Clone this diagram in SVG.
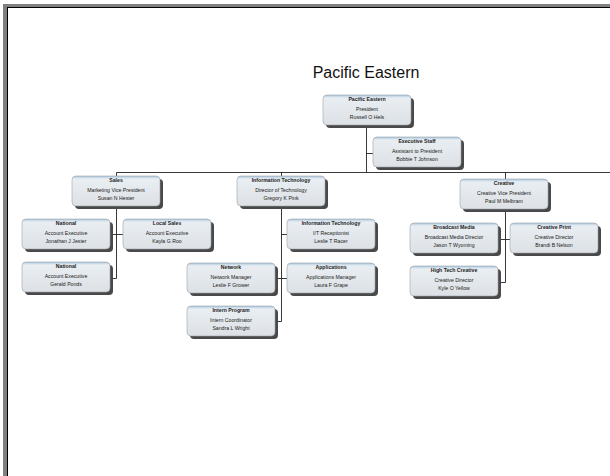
<svg xmlns="http://www.w3.org/2000/svg" width="610" height="476" viewBox="0 0 610 476">
<defs>
<linearGradient id="g" x1="0" y1="0" x2="0" y2="1">
<stop offset="0" stop-color="#a9c6de"/>
<stop offset="0.1" stop-color="#e9eef2"/>
<stop offset="1" stop-color="#dde1e5"/>
</linearGradient>
<filter id="blur" x="-10%" y="-10%" width="120%" height="130%"><feGaussianBlur stdDeviation="0.7"/></filter>
<style>
.sh{fill:#4a4a4a;filter:url(#blur)}
.bx{fill:url(#g);stroke:#9ca3aa;stroke-width:0.6}
.t{font-family:"Liberation Sans",Arial,sans-serif;font-size:5.2px;fill:#222;text-anchor:middle}
.b{font-weight:bold}
.c{stroke:#222;stroke-width:0.9;fill:none}
</style>
<g id="box">
<rect class="sh" x="3" y="3" width="88" height="30" rx="4"/>
<rect class="bx" x="0" y="0" width="88" height="30" rx="4"/>
</g>
</defs>
<rect x="0" y="0" width="610" height="476" fill="#fff"/>
<rect x="3" y="4" width="607" height="472" fill="#808080"/>
<rect x="7" y="7" width="603" height="469" fill="#000"/>
<rect x="8" y="8" width="602" height="468" fill="#fff"/>
<text x="366" y="78" style="font-family:'Liberation Sans',Arial,sans-serif;font-size:16px;fill:#111" text-anchor="middle">Pacific Eastern</text>
<g id="connectors" class="c">
<path d="M366.5 125V172.5M366.5 153.5H373M116.5 172.5H610M116.5 172.5V176M281.5 172.5V176M505.5 172.5V179"/>
<path d="M116.5 206V278.5H110M110 234.5H123"/>
<path d="M281.5 206V321.5H275M281.5 234.5H287M275 278.5H287"/>
<path d="M505.5 209V282.5H498M498 239.5H510"/>
</g>
<g id="n-pe" transform="translate(323,95)"><use href="#box"/><text class="t b" x="44" y="6">Pacific Eastern</text><text class="t" x="44" y="16">President</text><text class="t" x="44" y="23.5">Russell O Hels</text></g>
<g id="n-exec" transform="translate(373,137)"><use href="#box"/><text class="t b" x="44" y="6">Executive Staff</text><text class="t" x="44" y="16">Assistant to President</text><text class="t" x="44" y="23.5">Bobbie T Johnson</text></g>
<g id="n-sales" transform="translate(72,176)"><use href="#box"/><text class="t b" x="44" y="6">Sales</text><text class="t" x="44" y="16">Marketing Vice President</text><text class="t" x="44" y="23.5">Susan N Hester</text></g>
<g id="n-it" transform="translate(237,176)"><use href="#box"/><text class="t b" x="44" y="6">Information Technology</text><text class="t" x="44" y="16">Director of Technology</text><text class="t" x="44" y="23.5">Gregory K Pink</text></g>
<g id="n-creative" transform="translate(460,179)"><use href="#box"/><text class="t b" x="44" y="6">Creative</text><text class="t" x="44" y="16">Creative Vice President</text><text class="t" x="44" y="23.5">Paul M Melbram</text></g>
<g id="n-national1" transform="translate(22,219)"><use href="#box"/><text class="t b" x="44" y="6">National</text><text class="t" x="44" y="16">Account Executive</text><text class="t" x="44" y="23.5">Jonathan J Jester</text></g>
<g id="n-local" transform="translate(123,219)"><use href="#box"/><text class="t b" x="44" y="6">Local Sales</text><text class="t" x="44" y="16">Account Executive</text><text class="t" x="44" y="23.5">Kayla G Roo</text></g>
<g id="n-national2" transform="translate(22,262)"><use href="#box"/><text class="t b" x="44" y="6">National</text><text class="t" x="44" y="16">Account Executive</text><text class="t" x="44" y="23.5">Gerald Ponds</text></g>
<g id="n-itsub" transform="translate(287,219)"><use href="#box"/><text class="t b" x="44" y="6">Information Technology</text><text class="t" x="44" y="16">I/T Receptionist</text><text class="t" x="44" y="23.5">Leslie T Racer</text></g>
<g id="n-network" transform="translate(187,263)"><use href="#box"/><text class="t b" x="44" y="6">Network</text><text class="t" x="44" y="16">Network Manager</text><text class="t" x="44" y="23.5">Leslie F Grower</text></g>
<g id="n-apps" transform="translate(287,263)"><use href="#box"/><text class="t b" x="44" y="6">Applications</text><text class="t" x="44" y="16">Applications Manager</text><text class="t" x="44" y="23.5">Laura F Grape</text></g>
<g id="n-intern" transform="translate(187,306)"><use href="#box"/><text class="t b" x="44" y="6">Intern Program</text><text class="t" x="44" y="16">Intern Coordinator</text><text class="t" x="44" y="23.5">Sandra L Wright</text></g>
<g id="n-broadcast" transform="translate(410,223)"><use href="#box"/><text class="t b" x="44" y="6">Broadcast Media</text><text class="t" x="44" y="16">Broadcast Media Director</text><text class="t" x="44" y="23.5">Jason T Wyoming</text></g>
<g id="n-print" transform="translate(510,223)"><use href="#box"/><text class="t b" x="44" y="6">Creative Print</text><text class="t" x="44" y="16">Creative Director</text><text class="t" x="44" y="23.5">Brandi B Nelson</text></g>
<g id="n-hightech" transform="translate(410,266)"><use href="#box"/><text class="t b" x="44" y="6">High Tech Creative</text><text class="t" x="44" y="16">Creative Director</text><text class="t" x="44" y="23.5">Kyle O Yellow</text></g>
</svg>
